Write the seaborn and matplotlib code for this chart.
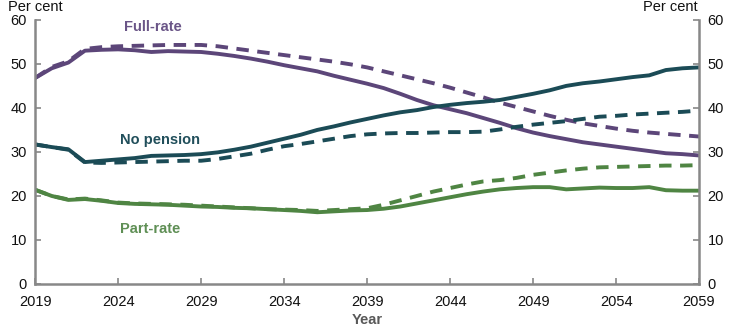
import numpy as np
import pandas as pd
import matplotlib
matplotlib.use("Agg")
import matplotlib.pyplot as plt
import seaborn as sns

years = list(range(2019, 2060))

full_rate = [46.8, 49.0, 50.3, 53.0, 53.2, 53.3, 53.1, 52.7, 52.9, 52.8, 52.7,
             52.3, 51.8, 51.2, 50.5, 49.7, 49.0, 48.3, 47.3, 46.4, 45.5,
             44.5, 43.2, 41.8, 40.6, 39.7, 38.8, 37.7, 36.6, 35.4, 34.4,
             33.6, 32.9, 32.2, 31.7, 31.2, 30.7, 30.2, 29.7, 29.5, 29.2]
full_rate_alt = [46.8, 49.3, 50.6, 53.4, 53.8, 54.0, 54.1, 54.2, 54.3, 54.3, 54.3,
                 54.0, 53.5, 53.0, 52.5, 52.0, 51.5, 51.0, 50.5, 49.9, 49.2,
                 48.3, 47.4, 46.5, 45.6, 44.6, 43.5, 42.4, 41.2, 40.2, 39.2,
                 38.2, 37.3, 36.5, 35.9, 35.3, 34.8, 34.4, 34.1, 33.8, 33.5]
no_pension = [31.7, 31.1, 30.6, 27.7, 28.0, 28.3, 28.6, 29.1, 29.2, 29.3, 29.5,
              29.9, 30.5, 31.2, 32.1, 33.0, 33.9, 35.0, 35.8, 36.7, 37.5,
              38.3, 39.0, 39.5, 40.2, 40.7, 41.1, 41.4, 41.8, 42.5, 43.2,
              44.0, 45.0, 45.6, 46.0, 46.5, 47.0, 47.4, 48.6, 49.0, 49.2]
no_pension_alt = [31.7, 31.1, 30.5, 27.6, 27.5, 27.6, 27.7, 27.8, 27.9, 28.0, 28.0,
                  28.4, 29.0, 29.6, 30.5, 31.3, 31.8, 32.4, 33.0, 33.6, 34.0,
                  34.2, 34.3, 34.3, 34.4, 34.5, 34.5, 34.6, 35.1, 35.7, 36.2,
                  36.6, 37.0, 37.5, 38.0, 38.2, 38.5, 38.7, 38.9, 39.1, 39.4]
part_rate = [21.4, 20.0, 19.1, 19.3, 18.9, 18.4, 18.2, 18.1, 18.0, 17.8, 17.6,
             17.5, 17.3, 17.2, 17.0, 16.8, 16.6, 16.3, 16.5, 16.7, 16.8,
             17.1, 17.6, 18.3, 19.0, 19.7, 20.4, 21.0, 21.5, 21.8, 22.0,
             22.0, 21.5, 21.7, 21.9, 21.8, 21.8, 22.0, 21.3, 21.2, 21.2]
part_rate_alt = [21.4, 20.0, 19.2, 19.4, 19.0, 18.5, 18.3, 18.2, 18.1, 18.0, 17.8,
                 17.6, 17.4, 17.2, 17.0, 16.9, 16.8, 16.6, 16.8, 17.0, 17.2,
                 18.0, 19.0, 20.0, 21.0, 21.8, 22.6, 23.3, 23.6, 24.1, 24.8,
                 25.3, 25.8, 26.2, 26.5, 26.6, 26.7, 26.8, 26.9, 26.9, 27.0]

y_ticks = [0, 10, 20, 30, 40, 50, 60]
x_ticks = list(range(2019, 2060, 5))

purple = "#5c4679"
teal = "#1b4b56"
green = "#4f8543"

series = [
    (full_rate, purple, "-"),
    (full_rate_alt, purple, "--"),
    (no_pension, teal, "-"),
    (no_pension_alt, teal, "--"),
    (part_rate, green, "-"),
    (part_rate_alt, green, "--"),
]

sns.set_style("white")
plt.rcParams["font.family"] = ["Liberation Sans", "DejaVu Sans"]

fs = 10.5

fig = plt.figure(figsize=(7.32, 3.31), dpi=100)
ax = fig.add_axes([0.048, 0.142, 0.907, 0.798])

for values, color, style in series:
    df = pd.DataFrame({"year": years, "value": values})
    sns.lineplot(data=df, x="year", y="value", ax=ax, color=color,
                 linewidth=2.8, linestyle=style)
for ln in ax.get_lines():
    if ln.get_linestyle() == "--":
        ln.set_dashes((3.2, 2.2))
        ln.set_dash_capstyle("butt")
    ln.set_solid_capstyle("butt")

ax.set_xlim(2019, 2059)
ax.set_ylim(0, 60)
ax.set_xticks(x_ticks)
ax.set_yticks(y_ticks)
ax.set_xticklabels([str(x) for x in x_ticks], fontsize=fs)
ax.set_yticklabels([str(y) for y in y_ticks], fontsize=fs)
ax.tick_params(axis="both", direction="in", length=4, width=1.2, color="#888888",
               labelcolor="#111111")
ax.tick_params(axis="y", left=True, right=True, labelleft=True, labelright=True, pad=6)
ax.tick_params(axis="x", bottom=True, pad=8)

for side in ["left", "right", "bottom"]:
    ax.spines[side].set_visible(True)
    ax.spines[side].set_color("#888888")
    ax.spines[side].set_linewidth(1.8)
ax.spines["top"].set_visible(False)

ax.set_xlabel("Year", fontsize=fs, fontweight="bold", color="#595959", labelpad=3)
ax.set_ylabel("")

fig.text(0.011, 0.978, "Per cent", fontsize=fs, color="#111111", ha="left", va="center")
fig.text(0.953, 0.978, "Per cent", fontsize=fs, color="#111111", ha="right", va="center")

ax.text(2026.1, 58.4, "Full-rate", fontsize=fs, fontweight="bold", color="#6a5587",
        ha="center", va="center")
ax.text(2026.5, 32.7, "No pension", fontsize=fs, fontweight="bold", color="#214f5b",
        ha="center", va="center")
ax.text(2025.9, 12.5, "Part-rate", fontsize=fs, fontweight="bold", color="#5f8f55",
        ha="center", va="center")

fig.savefig("out.png", dpi=100)
